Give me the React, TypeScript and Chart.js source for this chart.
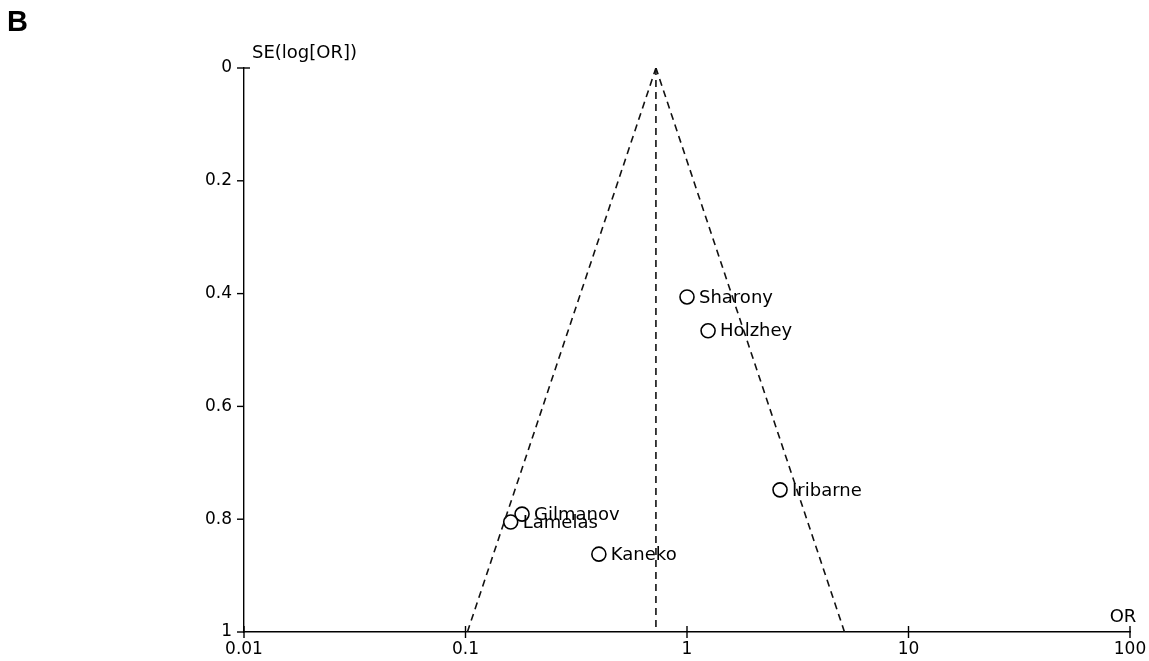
import React, { useEffect, useRef } from "react";
import { Chart, registerables } from "chart.js";

Chart.register(...registerables);

const studies = ["Sharony", "Holzhey", "Iribarne", "Gilmanov", "Lamelas", "Kaneko"];
const oddsRatios = [1.0, 1.245, 2.63, 0.18, 0.16, 0.4];
const standardErrors = [0.406, 0.466, 0.748, 0.791, 0.805, 0.862];

const pooledOR = 0.724;
const pooledLineSE = [0, 1];
const funnelLeftOR = [0.102, 0.724];
const funnelRightOR = [5.14, 0.724];
const funnelSE = [1, 0];

const xTicks = [0.01, 0.1, 1, 10, 100];
const yTicks = [0, 0.2, 0.4, 0.6, 0.8, 1];

const FONT = "'DejaVu Sans', sans-serif";

export default function App() {
  const ref = useRef<HTMLCanvasElement | null>(null);

  useEffect(() => {
    if (!ref.current) return;

    const overlay = {
      id: "overlay",
      afterDraw(chart: any) {
        const ctx = chart.ctx;
        const xs = chart.scales.x;
        const ys = chart.scales.y;
        const area = chart.chartArea;
        ctx.save();
        ctx.strokeStyle = "#000";
        ctx.lineWidth = 1.4;
        xTicks.forEach((v) => {
          const px = xs.getPixelForValue(v);
          ctx.beginPath();
          ctx.moveTo(px, area.bottom - 6);
          ctx.lineTo(px, area.bottom + 6);
          ctx.stroke();
        });
        yTicks.forEach((v) => {
          const py = ys.getPixelForValue(v);
          ctx.beginPath();
          ctx.moveTo(area.left - 7, py);
          ctx.lineTo(area.left + (v === 0 ? 6 : 0), py);
          ctx.stroke();
        });
        ctx.fillStyle = "#000";
        ctx.font = `18px ${FONT}`;
        ctx.textBaseline = "middle";
        ctx.textAlign = "left";
        studies.forEach((name, i) => {
          const px = xs.getPixelForValue(oddsRatios[i]);
          const py = ys.getPixelForValue(standardErrors[i]);
          ctx.fillText(name, px + 12, py + 1);
        });
        ctx.fillText("SE(log[OR])", area.left + 8, area.top - 15);
        ctx.textAlign = "center";
        ctx.fillText("OR", area.right - 7, area.bottom - 15);
        ctx.font = `bold 29px 'Liberation Sans', Arial, sans-serif`;
        ctx.textAlign = "left";
        ctx.textBaseline = "alphabetic";
        ctx.fillText("B", 7, 31);
        ctx.restore();
      },
    };

    const dashed = {
      showLine: true,
      borderColor: "#111",
      borderWidth: 1.6,
      borderDash: [7, 5],
      pointRadius: 0,
      pointHoverRadius: 0,
      fill: false,
    };

    const chart = new Chart(ref.current, {
      type: "scatter",
      data: {
        datasets: [
          {
            ...dashed,
            data: pooledLineSE.map((se) => ({ x: pooledOR, y: se })),
          },
          {
            ...dashed,
            data: funnelLeftOR.map((x, i) => ({ x, y: funnelSE[i] })),
          },
          {
            ...dashed,
            data: funnelRightOR.map((x, i) => ({ x, y: funnelSE[i] })),
          },
          {
            data: oddsRatios.map((x, i) => ({ x, y: standardErrors[i] })),
            pointRadius: 7,
            pointBackgroundColor: "#fff",
            pointBorderColor: "#000",
            pointBorderWidth: 1.6,
            showLine: false,
          },
        ],
      },
      options: {
        responsive: false,
        animation: false,
        events: [],
        layout: { padding: { left: 0, top: 68, right: 19, bottom: 0 } },
        plugins: {
          legend: { display: false },
          tooltip: { enabled: false },
        },
        scales: {
          x: {
            type: "logarithmic",
            min: 0.01,
            max: 100,
            afterBuildTicks: (scale: any) => {
              scale.ticks = xTicks.map((v) => ({ value: v }));
            },
            afterFit: (scale: any) => {
              scale.height = 29;
              scale.paddingLeft = 0;
              scale.paddingRight = 0;
            },
            grid: { display: false, drawTicks: false },
            border: { display: true, color: "#000", width: 1.4 },
            ticks: {
              padding: 7,
              color: "#000",
              font: { family: FONT, size: 17 },
              maxRotation: 0,
              autoSkip: false,
              callback: (v: any) => String(v),
            },
          },
          y: {
            type: "linear",
            reverse: true,
            min: 0,
            max: 1,
            afterBuildTicks: (scale: any) => {
              scale.ticks = yTicks.map((v) => ({ value: v }));
            },
            afterFit: (scale: any) => {
              scale.width = 244;
              scale.paddingTop = 0;
              scale.paddingBottom = 0;
            },
            grid: { display: false, drawTicks: false },
            border: { display: true, color: "#000", width: 1.4 },
            ticks: {
              padding: 12,
              color: "#000",
              font: { family: FONT, size: 17 },
              autoSkip: false,
              callback: (v: any) => String(Math.round(v * 10) / 10),
            },
          },
        },
      },
      plugins: [overlay],
    });

    return () => chart.destroy();
  }, []);

  return (
    <div style={{ position: "absolute", left: 0, top: 0, width: 1149, height: 661, background: "#fff" }}>
      <canvas ref={ref} width={1149} height={661} style={{ display: "block" }} />
    </div>
  );
}
